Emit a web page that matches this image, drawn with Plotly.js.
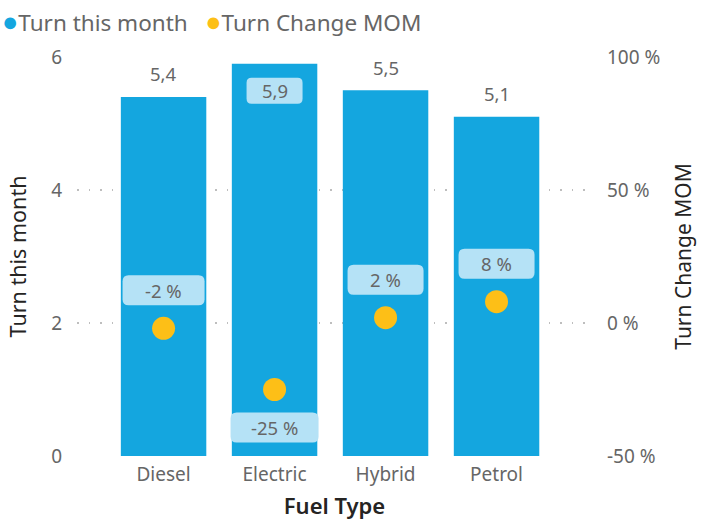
<!DOCTYPE html>
<html>
<head>
<meta charset="utf-8">
<script src="https://cdn.plot.ly/plotly-3.0.1.min.js"></script>
<style>html,body{margin:0;padding:0;background:#fff}#chart{width:702px;height:521px}</style>
</head>
<body>
<div id="chart"></div>
<script>
const categories = ['Diesel', 'Electric', 'Hybrid', 'Petrol'];
const turnThisMonth = [5.4, 5.9, 5.5, 5.1];
const turnChangeMOM = [-2, -25, 2, 8];
const leftTicks = [0, 2, 4, 6];
const rightTicks = [-50, 0, 50, 100];
const seriesNames = ['Turn this month', 'Turn Change MOM'];

const barColor = '#14A6DF';
const dotColor = '#FDBF17';
const boxColor = '#B5E2F6';
const tickColor = '#666666';
const titleColor = '#252423';
const font = 'Noto Sans, Open Sans, sans-serif';

const traces = [
  {type: 'bar', x: categories, y: turnThisMonth, name: seriesNames[0],
   marker: {color: barColor}, width: 0.77, hoverinfo: 'none', showlegend: false},
  {type: 'scatter', mode: 'markers', x: categories, y: turnChangeMOM, yaxis: 'y2',
   name: seriesNames[1], marker: {color: dotColor, size: 23}, hoverinfo: 'none', showlegend: false}
];

const fmtNum = v => v.toFixed(1).replace('.', ',');
const fmtPct = v => Math.round(v) + ' %';

const annotations = [];
const shapes = [];

function roundedBox(w, h, r, dy) {
  const x0 = -w / 2, x1 = w / 2, y0 = dy - h / 2, y1 = dy + h / 2;
  return `M ${x0 + r} ${y0} L ${x1 - r} ${y0} Q ${x1} ${y0} ${x1} ${y0 + r} L ${x1} ${y1 - r} Q ${x1} ${y1} ${x1 - r} ${y1} L ${x0 + r} ${y1} Q ${x0} ${y1} ${x0} ${y1 - r} L ${x0} ${y0 + r} Q ${x0} ${y0} ${x0 + r} ${y0} Z`;
}

// bar value labels
categories.forEach((c, i) => {
  const v = turnThisMonth[i];
  const inside = v / leftTicks[leftTicks.length - 1] > 0.95;
  const dy = inside ? -27 : 23;
  if (inside) {
    shapes.push({type: 'path', xref: 'x', yref: 'y', xsizemode: 'pixel', ysizemode: 'pixel',
      xanchor: c, yanchor: v, path: roundedBox(56, 26, 5, dy),
      fillcolor: boxColor, line: {width: 0}, layer: 'above'});
  }
  annotations.push({x: c, y: v, xref: 'x', yref: 'y', text: fmtNum(v), showarrow: false,
    yshift: dy, font: {family: font, size: 18.5, color: tickColor}});
});

// percent labels
categories.forEach((c, i) => {
  const v = turnChangeMOM[i];
  const txt = fmtPct(v);
  const dy = v < -10 ? -38 : 38;
  const w = 58 + 6 * txt.length;
  shapes.push({type: 'path', xref: 'x', yref: 'y2', xsizemode: 'pixel', ysizemode: 'pixel',
    xanchor: c, yanchor: v, path: roundedBox(w, 30, 6, dy),
    fillcolor: boxColor, line: {width: 0}, layer: 'above'});
  annotations.push({x: c, y: v, xref: 'x', yref: 'y2', text: txt, showarrow: false,
    yshift: dy, font: {family: font, size: 18.5, color: tickColor}});
});

// legend as text
annotations.push({xref: 'paper', yref: 'paper', x: -77 / 515, y: (456 - 20) / 399,
  xanchor: 'left', yanchor: 'middle', showarrow: false, align: 'left',
  text: `<span style="color:${barColor};font-size:27px">●</span>${seriesNames[0]}   <span style="color:${dotColor};font-size:27px">●</span>${seriesNames[1]}`,
  font: {family: font, size: 22.5, color: tickColor}});

const layout = {
  width: 702, height: 521,
  margin: {l: 77, r: 110, t: 57, b: 65},
  paper_bgcolor: '#fff', plot_bgcolor: '#fff',
  showlegend: false,
  xaxis: {type: 'category', range: [-0.78, 3.86], showgrid: false, zeroline: false,
    showline: false, ticks: '', ticklabelstandoff: 5,
    tickfont: {family: font, size: 19, color: tickColor},
    title: {text: 'Fuel Type', standoff: 12, font: {family: font, size: 22, color: titleColor, weight: 600}}},
  yaxis: {range: [0, 6], tickvals: leftTicks, ticktext: leftTicks.map(String),
    showgrid: true, gridcolor: '#BEBEBE', griddash: '1.5px,10px', gridwidth: 1.5, zeroline: false,
    showline: false, ticks: '', ticklabelstandoff: 14,
    tickfont: {family: font, size: 19, color: tickColor},
    title: {text: seriesNames[0], standoff: 18, font: {family: font, size: 21.5, color: titleColor}}},
  yaxis2: {overlaying: 'y', side: 'right', range: [-50, 100], tickvals: rightTicks,
    ticktext: rightTicks.map(v => v + ' %'), showgrid: false, zeroline: false,
    showline: false, ticks: '', ticklabelstandoff: 14,
    tickfont: {family: font, size: 19, color: tickColor},
    title: {text: seriesNames[1], standoff: 16, font: {family: font, size: 21, color: titleColor}}},
  shapes: shapes,
  annotations: annotations
};

Plotly.newPlot('chart', traces, layout, {displayModeBar: false, staticPlot: true});
</script>
</body>
</html>
